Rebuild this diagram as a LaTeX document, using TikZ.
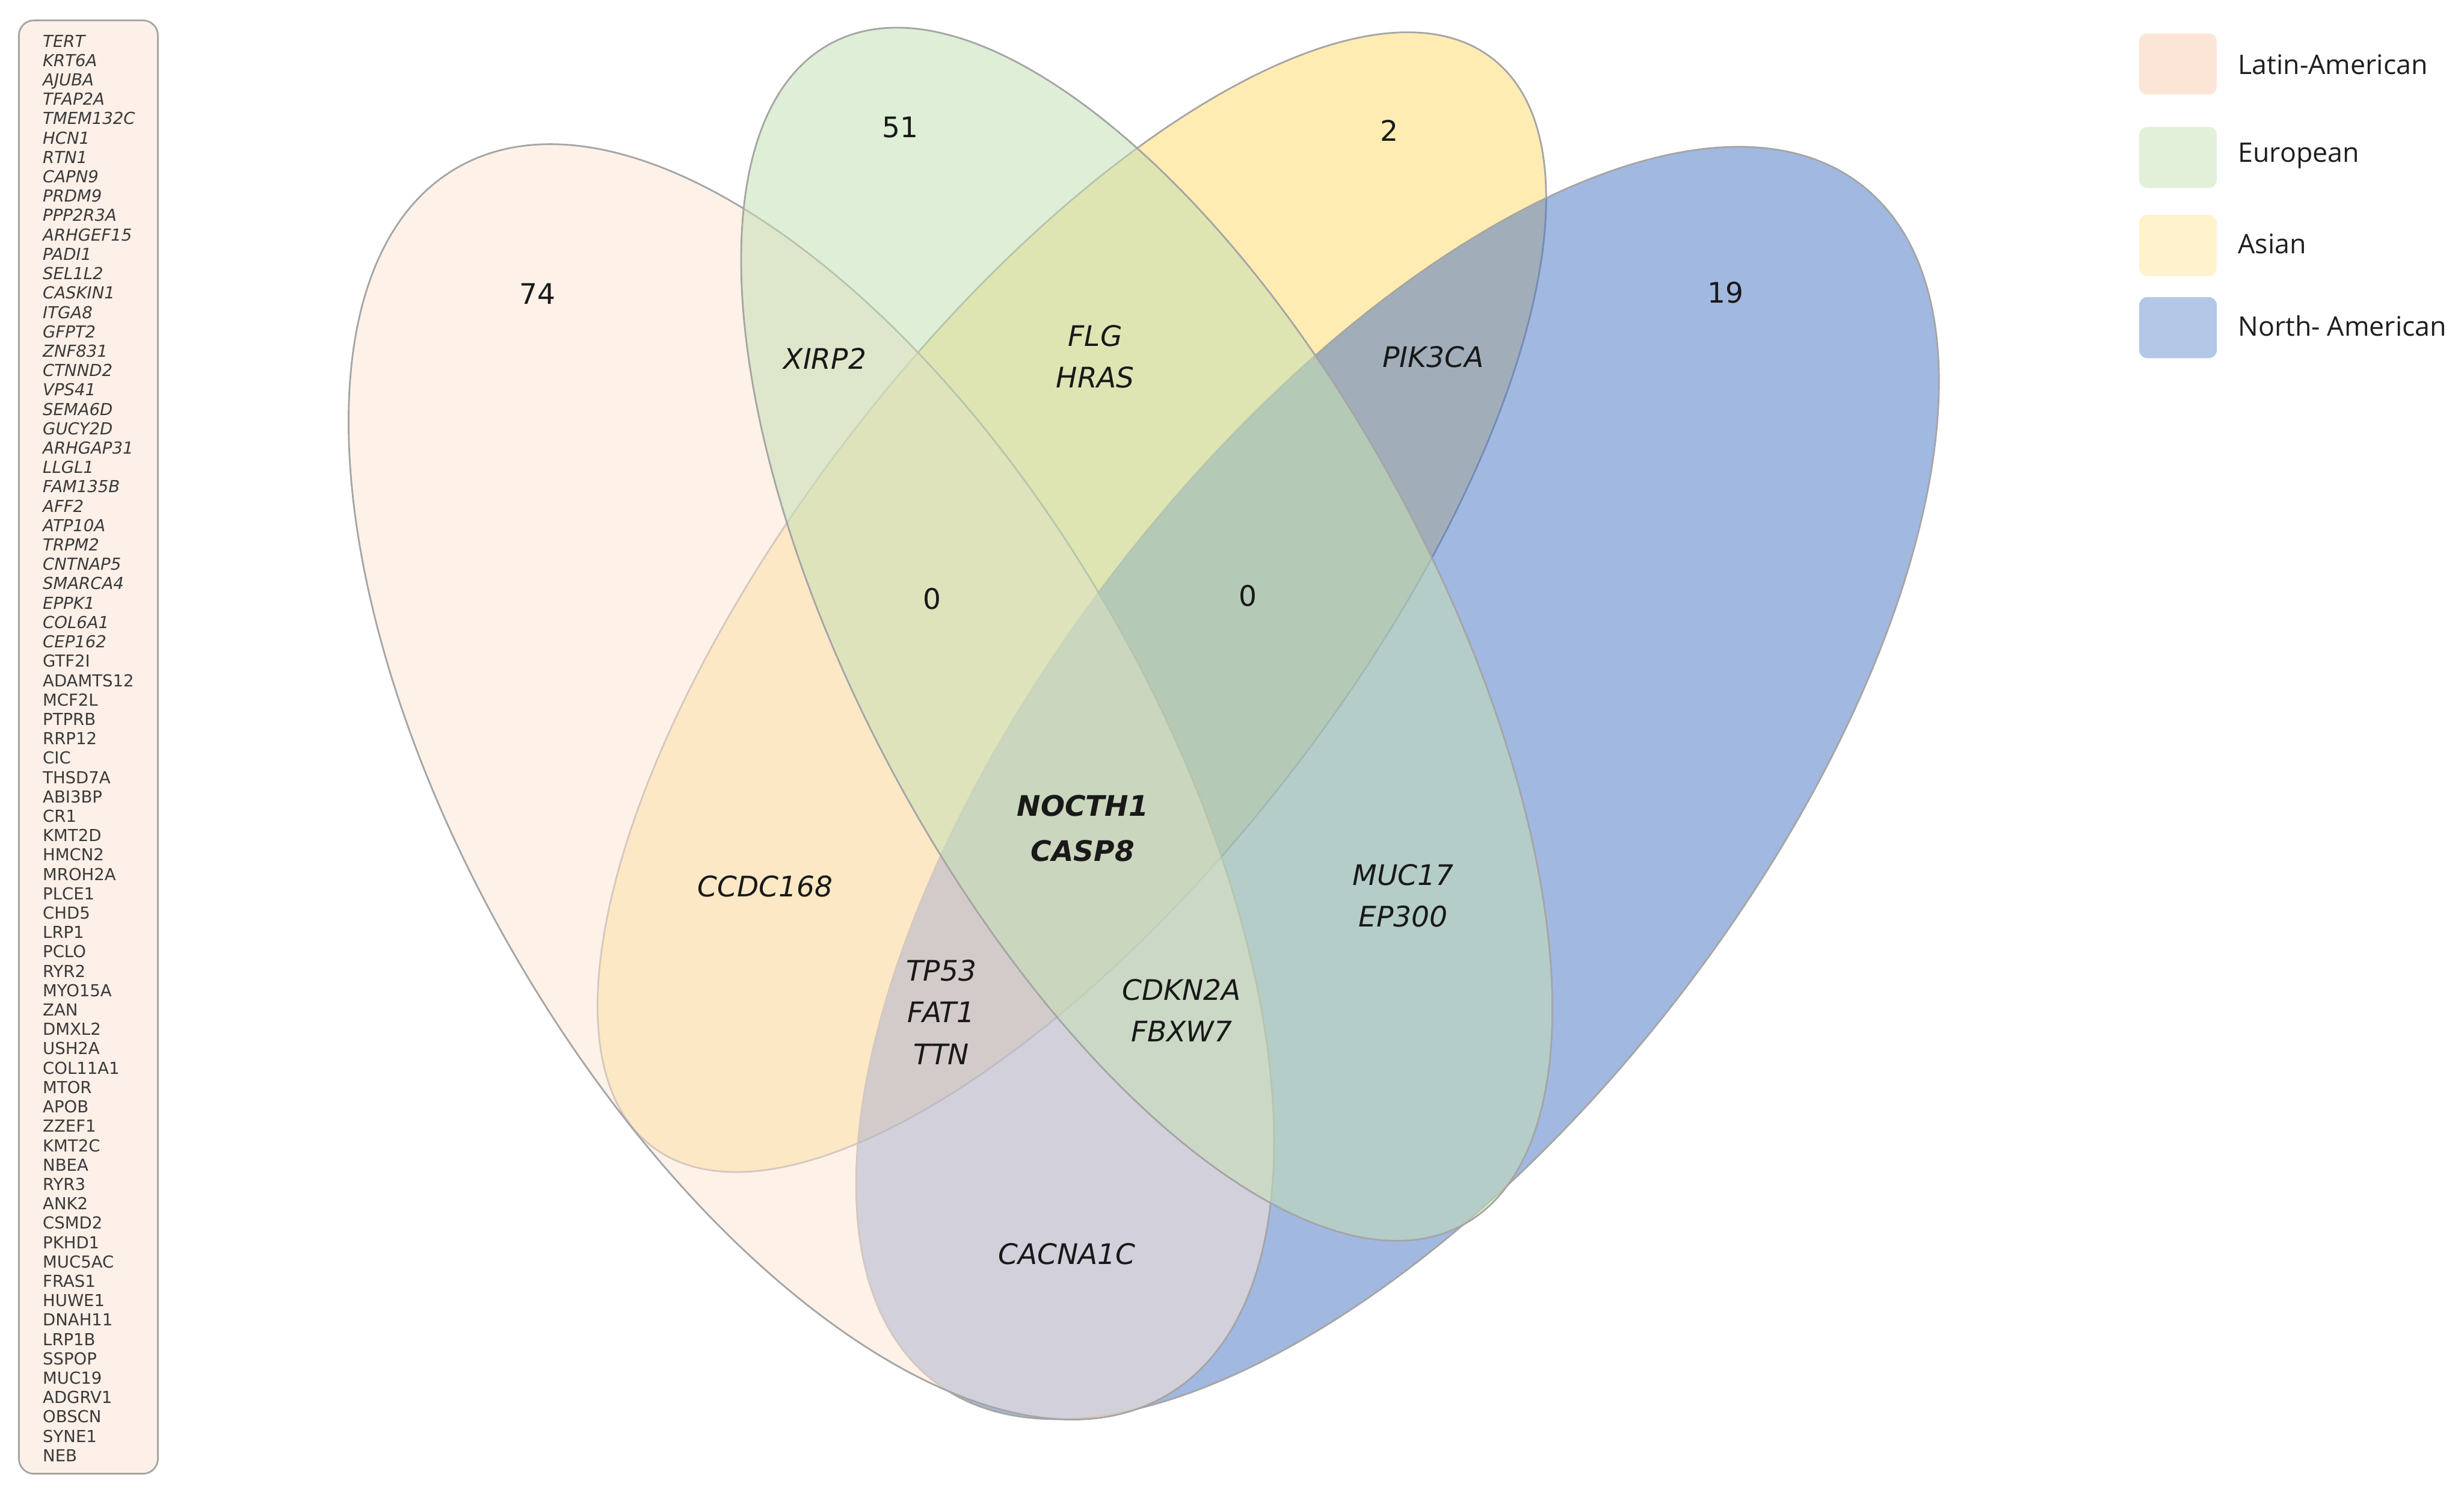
\documentclass[tikz,border=0pt]{standalone}
\usepackage{fontspec}
\setmainfont{DejaVu Sans}
\newfontfamily\legendfont{Open Sans}
\definecolor{latC}{HTML}{FBE5D6}
\definecolor{eurC}{HTML}{C5E0B4}
\definecolor{asiC}{HTML}{FFD966}
\definecolor{naC}{HTML}{4472C4}
\definecolor{outl}{HTML}{A5A5A5}
\definecolor{legLat}{HTML}{FBE5D6}
\definecolor{legEur}{HTML}{E2F0D9}
\definecolor{legAsi}{HTML}{FFF2CC}
\definecolor{legNA}{HTML}{B4C7E7}
\definecolor{listfill}{HTML}{FCF0E8}
\definecolor{listtext}{HTML}{3A3A3A}
\begin{document}
\begin{tikzpicture}[x=0.027697cm, y=-0.027697cm,
  vennset/.style={draw=outl, line width=0.85pt},
  genelab/.style={font=\fontsize{14.2}{20.9}\selectfont\itshape, align=center, inner sep=0pt, text=black!90},
  corelab/.style={font=\fontsize{14.2}{22.5}\selectfont\bfseries\itshape, align=center, inner sep=0pt, text=black!90},
  countlab/.style={font=\fontsize{14.2}{17}\selectfont, inner sep=0pt, text=black!90},
  legbox/.style={rounded corners=4pt, minimum width=38.85pt, minimum height=30.65pt, inner sep=0pt},
  legtext/.style={font=\legendfont\fontsize{13.5}{16}\selectfont, anchor=base west, inner sep=0pt, text=black!88},
  listitem/.style={font=\fontsize{8.3}{9.7}\selectfont, anchor=base west, inner sep=0pt, text=listtext}
]
\useasboundingbox (0,0) rectangle (1568,949);

% ---- ellipses (drawing order: Asian, North-American, Latin-American, European)
\coordinate (cAsi) at (682.1,383.15);
\coordinate (cNA)  at (889.35,498.2);
\coordinate (cLat) at (516.3,497.5);
\coordinate (cEur) at (729.75,403.6);
\path[vennset, fill=asiC, fill opacity=0.5, rotate around={52.3:(cAsi)}] (cAsi) ellipse [x radius=437.4, y radius=176.6];
\path[vennset, fill=naC, fill opacity=0.5, rotate around={52.2:(cNA)}] (cNA) ellipse [x radius=481.6, y radius=224.8];
\path[vennset, fill=latC, fill opacity=0.55, rotate around={-60:(cLat)}] (cLat) ellipse [x radius=451.1, y radius=218.6];
\path[vennset, fill=eurC, fill opacity=0.55, rotate around={-61.9:(cEur)}] (cEur) ellipse [x radius=426.3, y radius=183.9];

% ---- counts
\node[countlab] (n74) at (342,187) {74};
\node[countlab] (n51) at (573,81) {51};
\node[countlab] (n2)  at (884,83) {2};
\node[countlab] (n19) at (1098,186) {19};
\node[countlab] (n0a) at (593,381) {0};
\node[countlab] (n0b) at (794,379) {0};

% ---- gene labels
\node[genelab] (xirp) at (525,228) {XIRP2};
\node[genelab] (flg)  at (697,227) {FLG\\HRAS};
\node[genelab] (pik)  at (912,227) {PIK3CA};
\node[corelab] (core) at (689,527) {NOCTH1\\CASP8};
\node[genelab] (ccdc) at (487,564) {CCDC168};
\node[genelab] (muc)  at (893,570) {MUC17\\EP300};
\node[genelab] (tp53) at (599,644) {TP53\\FAT1\\TTN};
\node[genelab] (cdkn) at (752,643) {CDKN2A\\FBXW7};
\node[genelab] (cacn) at (679,798) {CACNA1C};

% ---- legend
\node[legbox, fill=legLat] (kLat) at (1386,40.7) {};
\node[legbox, fill=legEur] (kEur) at (1386,100.2) {};
\node[legbox, fill=legAsi] (kAsi) at (1386,156.2) {};
\node[legbox, fill=legNA]  (kNA)  at (1386,208.5) {};
\node[legtext] (tLat) at (1424,47.4) {Latin-American};
\node[legtext] (tEur) at (1424,103.3) {European};
\node[legtext] (tAsi) at (1424,161.3) {Asian};
\node[legtext] (tNA)  at (1424,213.7) {North- American};

% ---- list of Latin-American genes
\node[draw=outl, line width=0.85pt, fill=listfill, rounded corners=7.5pt, minimum width=69.7pt, minimum height=728.7pt, inner sep=0pt] (listbox) at (56.25,475.35) {};
\foreach \g [count=\i] in {TERT,KRT6A,AJUBA,TFAP2A,TMEM132C,HCN1,RTN1,CAPN9,PRDM9,PPP2R3A,ARHGEF15,PADI1,SEL1L2,CASKIN1,ITGA8,GFPT2,ZNF831,CTNND2,VPS41,SEMA6D,GUCY2D,ARHGAP31,LLGL1,FAM135B,AFF2,ATP10A,TRPM2,CNTNAP5,SMARCA4,EPPK1,COL6A1,CEP162,GTF2I,ADAMTS12,MCF2L,PTPRB,RRP12,CIC,THSD7A,ABI3BP,CR1,KMT2D,HMCN2,MROH2A,PLCE1,CHD5,LRP1,PCLO,RYR2,MYO15A,ZAN,DMXL2,USH2A,COL11A1,MTOR,APOB,ZZEF1,KMT2C,NBEA,RYR3,ANK2,CSMD2,PKHD1,MUC5AC,FRAS1,HUWE1,DNAH11,LRP1B,SSPOP,MUC19,ADGRV1,OBSCN,SYNE1,NEB}{
  \pgfmathsetmacro{\yy}{29.9+12.33*(\i-1)}
  \node[listitem] (gene\i) at (27,\yy) {\ifnum\i<33 \itshape\fi\g};
}
\end{tikzpicture}
\end{document}
